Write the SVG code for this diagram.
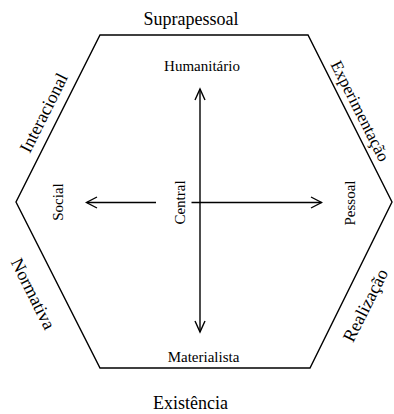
<svg xmlns="http://www.w3.org/2000/svg" width="394" height="414" viewBox="0 0 394 414">
  <defs>
    <style>
      .edge { fill: none; stroke: #000; stroke-width: 1.4; stroke-linejoin: miter; }
      .axis { fill: none; stroke: #000; stroke-width: 1.4; }
      .head { fill: none; stroke: #000; stroke-width: 1.4; stroke-linejoin: miter; stroke-linecap: butt; }
      .big { font-family: "Liberation Serif", "Times New Roman", serif; font-size: 18px; fill: #000; text-anchor: middle; }
      .small { font-family: "Liberation Serif", "Times New Roman", serif; font-size: 15px; fill: #000; text-anchor: middle; }
    </style>
  </defs>
  <rect width="394" height="414" fill="#fff"/>

  <!-- hexagon frame -->
  <g id="hexagon">
    <polygon class="edge" points="100,35 308,35 392,202 310,368 100,368 16,202"/>
  </g>

  <!-- dimension labels around the frame -->
  <g id="suprapessoal"><text class="big" x="191" y="25">Suprapessoal</text></g>
  <g id="existencia"><text class="big" x="190.5" y="409">Existência</text></g>
  <g id="interacional"><text class="big" transform="translate(49,115.5) rotate(-63.3)">Interacional</text></g>
  <g id="experimentacao"><text class="big" style="font-size:17px" transform="translate(355,113.5) rotate(63.3)">Experimentação</text></g>
  <g id="normativa"><text class="big" transform="translate(27.7,296.4) rotate(63.3)">Normativa</text></g>
  <g id="realizacao"><text class="big" transform="translate(370.8,308) rotate(-63.3)">Realização</text></g>

  <!-- poles of the axes -->
  <g id="humanitario"><text class="small" x="202" y="70.5">Humanitário</text></g>
  <g id="materialista"><text class="small" x="203.5" y="362">Materialista</text></g>
  <g id="social"><text class="small" transform="translate(63,202) rotate(-90)">Social</text></g>
  <g id="central"><text class="small" transform="translate(185,202.5) rotate(-90)">Central</text></g>
  <g id="pessoal"><text class="small" transform="translate(355,203) rotate(-90)">Pessoal</text></g>

  <!-- axes with open arrowheads -->
  <g id="connectors">
    <line class="axis" x1="200" y1="89" x2="200" y2="332"/>
    <polyline class="head" points="195,100 200,89 205,100"/>
    <polyline class="head" points="195,321 200,332 205,321"/>
    <line class="axis" x1="156" y1="202.5" x2="87" y2="202.5"/>
    <polyline class="head" points="97,197 86.5,202.5 97,208"/>
    <line class="axis" x1="191.5" y1="202.5" x2="321.5" y2="202.5"/>
    <polyline class="head" points="311,197 321.5,202.5 311,208"/>
  </g>
</svg>
